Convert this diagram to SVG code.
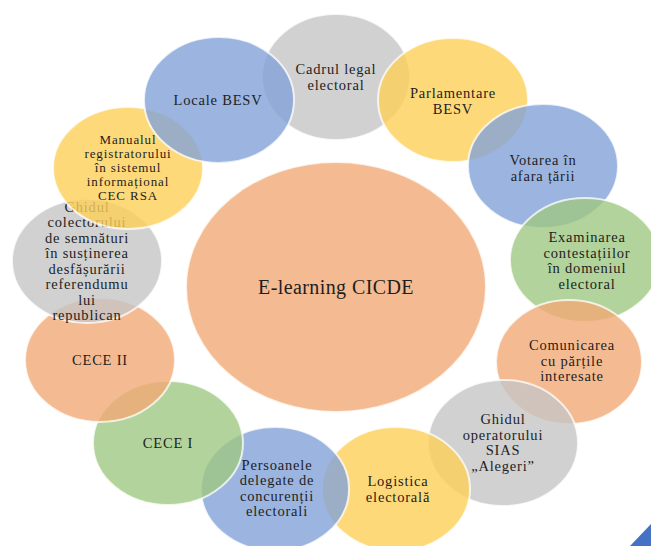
<svg xmlns="http://www.w3.org/2000/svg" width="651" height="546" viewBox="0 0 651 546">
<style>
.n{fill-opacity:0.8;stroke:#ffffff;stroke-opacity:0.75;stroke-width:2}
.or{fill:#F1AA77}
.bl{fill:#82A2D8}
.gr{fill:#C6C6C6}
.ye{fill:#FDCF59}
.gn{fill:#9FC882}
text{font-family:"Liberation Serif","Times New Roman",serif;font-size:14.5px;letter-spacing:0.8px;fill:#1e1e1e;text-anchor:middle}
.big{font-size:20px;letter-spacing:0.4px}
.s13{font-size:13px;letter-spacing:0.9px}
</style>
<rect width="651" height="546" fill="#ffffff"/>
<g id="center">
<ellipse class="n or" cx="336" cy="287" rx="150" ry="125"/>
<text class="big" x="336" y="294">E-learning CICDE</text>
</g>
<g id="cadrul">
<ellipse class="n gr" cx="336" cy="77" rx="74" ry="63"/>
<text x="336" y="74">Cadrul legal</text>
<text x="336" y="90">electoral</text>
</g>
<g id="parlamentare">
<ellipse class="n ye" cx="453" cy="100" rx="75" ry="62"/>
<text x="453" y="98">Parlamentare</text>
<text x="453" y="113.5">BESV</text>
</g>
<g id="votarea">
<ellipse class="n bl" cx="543" cy="166" rx="75" ry="62"/>
<text x="543" y="165">Votarea în</text>
<text x="543" y="180.5">afara țării</text>
</g>
<g id="examinarea">
<ellipse class="n gn" cx="585" cy="260" rx="75" ry="62"/>
<text x="587" y="242">Examinarea</text>
<text x="587" y="257.5">contestațiilor</text>
<text x="587" y="273">în domeniul</text>
<text x="587" y="288.5">electoral</text>
</g>
<g id="comunicarea">
<ellipse class="n or" cx="569" cy="362" rx="73" ry="62"/>
<text x="572" y="350">Comunicarea</text>
<text x="572" y="365.5">cu părțile</text>
<text x="572" y="381">interesate</text>
</g>
<g id="ghidul-operatorului">
<ellipse class="n gr" cx="503" cy="443" rx="75" ry="63"/>
<text x="503" y="424">Ghidul</text>
<text x="503" y="439.5">operatorului</text>
<text x="503" y="455">SIAS</text>
<text x="503" y="470.5">„Alegeri”</text>
</g>
<g id="logistica">
<ellipse class="n ye" cx="396" cy="489" rx="74" ry="62"/>
<text x="398" y="486">Logistica</text>
<text x="398" y="502">electorală</text>
</g>
<g id="persoanele">
<ellipse class="n bl" cx="275" cy="489" rx="74" ry="62"/>
<text x="277" y="469.5">Persoanele</text>
<text x="277" y="485">delegate de</text>
<text x="277" y="500.5">concurenții</text>
<text x="277" y="516">electorali</text>
</g>
<g id="cece1">
<ellipse class="n gn" cx="168" cy="443" rx="75" ry="62"/>
<text x="168" y="448">CECE I</text>
</g>
<g id="cece2">
<ellipse class="n or" cx="100" cy="360" rx="75" ry="62"/>
<text x="100" y="365">CECE II</text>
</g>
<g id="ghidul-colectorului">
<ellipse class="n gr" cx="87" cy="261" rx="75" ry="62"/>
<text x="87" y="212">Ghidul</text>
<text x="87" y="227.4">colectorului</text>
<text x="87" y="242.9">de semnături</text>
<text x="87" y="258.3">în susținerea</text>
<text x="87" y="273.7">desfășurării</text>
<text x="87" y="289.1">referendumu</text>
<text x="87" y="304.6">lui</text>
<text x="87" y="320">republican</text>
</g>
<g id="manualul">
<ellipse class="n ye" cx="128" cy="168" rx="75" ry="61"/>
<text class="s13" x="128" y="144">Manualul</text>
<text class="s13" x="128" y="158">registratorului</text>
<text class="s13" x="128" y="172">în sistemul</text>
<text class="s13" x="128" y="186">informațional</text>
<text class="s13" x="128" y="200">CEC RSA</text>
</g>
<g id="locale">
<ellipse class="n bl" cx="219" cy="100" rx="75" ry="63"/>
<text x="218" y="105">Locale BESV</text>
</g>
<polygon points="630,546 651,524 651,546" fill="#4472C4"/>
</svg>
